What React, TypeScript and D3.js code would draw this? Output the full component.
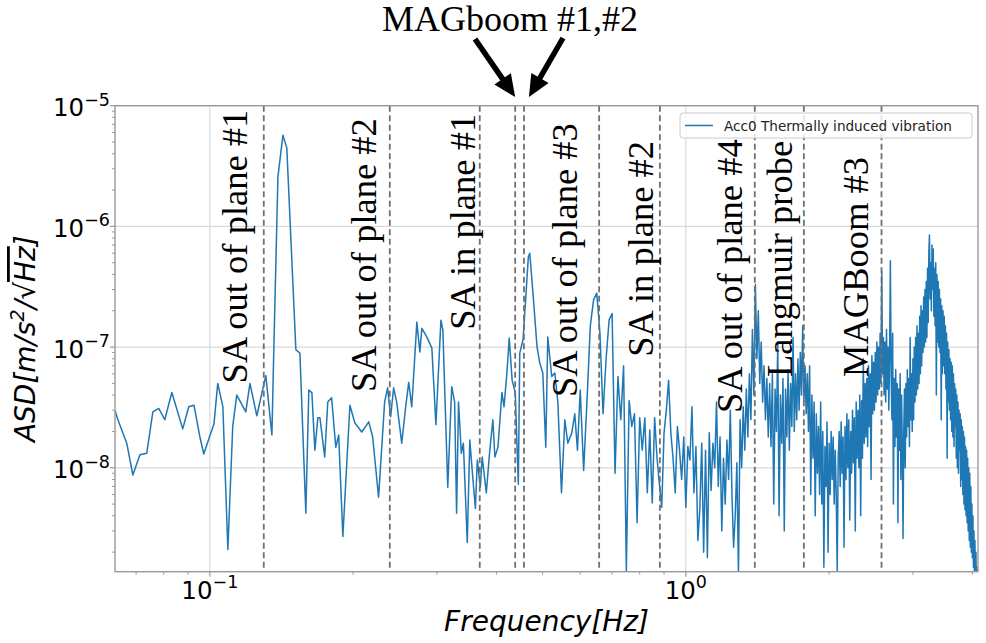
import React from "react";
import * as d3 from "d3";

// low frequency part
// frequency in Hz, ASD in 1e-9 m/s^2/sqrt(Hz)
const lowFreqHz = [
  0.0632, 0.0641, 0.0669, 0.0689, 0.0713, 0.0737, 0.0759, 0.0781, 0.0804, 0.0832,
  0.0877, 0.0903, 0.0926, 0.0953, 0.0971, 0.1005, 0.102, 0.1039, 0.1065, 0.1091,
  0.1117, 0.1139, 0.119, 0.1214, 0.1255, 0.1311, 0.135, 0.1363, 0.139, 0.1424,
  0.1451, 0.1516, 0.1546, 0.1591, 0.1614, 0.1638, 0.1662, 0.1686, 0.1703, 0.1743,
  0.1769, 0.1802, 0.1839, 0.1865, 0.1903, 0.1969, 0.2016, 0.2085, 0.2157, 0.2198,
  0.2262, 0.2329, 0.2363, 0.2398, 0.2433, 0.2469, 0.253, 0.2579, 0.2617, 0.2656,
  0.2722, 0.2762, 0.2789, 0.2857, 0.2927, 0.2985, 0.3058, 0.3087, 0.3161, 0.3222,
  0.3268, 0.3299, 0.333, 0.3376, 0.3409, 0.3474, 0.3517, 0.3562, 0.3613, 0.3647,
  0.37, 0.3734, 0.3809, 0.3874, 0.3932, 0.397, 0.403, 0.4108, 0.415, 0.4208,
  0.4256, 0.4316, 0.4381, 0.4447, 0.4478, 0.455, 0.4645, 0.4668, 0.47, 0.4768,
  0.4869, 0.4933, 0.5006, 0.5079, 0.5128, 0.5228, 0.5306, 0.5384, 0.548, 0.5569,
  0.565, 0.576, 0.5843, 0.592,
];
const lowAsdNano = [
  30, 25, 16, 8.7, 12.8, 13.2, 29, 31, 25, 42,
  21, 32, 33, 18, 13, 19.5, 23, 50, 32, 2.1,
  22, 40, 29, 50, 27, 58, 18.7, 100, 2570, 5700,
  4470, 95, 89, 4.2, 44, 42, 14, 26, 26, 12.3,
  35, 38, 14.8, 18.7, 2.7, 33, 23.6, 19.8, 24, 18,
  5.7, 35, 46, 26.5, 46, 35, 16, 32, 51, 32,
  161, 91, 143, 121, 98, 22.7, 167, 139, 6.9, 47,
  35, 4.2, 35, 13.2, 16, 2.4, 17, 9, 4.6, 11.6,
  6.9, 12.3, 6.2, 14, 25, 12.3, 14.8, 42, 32, 61,
  119, 53, 42, 7.3, 89, 115, 410, 557, 600, 297,
  100, 74, 61, 14.8, 121, 57, 61, 35, 6.2, 25,
  16, 19.5, 28, 14,
];

// dense part: one value per 0.01 Hz bin from 0.60 Hz on
const denseStartHz = 0.6;
const denseStepHz = 0.01;
const denseAsdNano = [
  44, 9.5, 36, 150, 246, 280, 130, 28, 80, 168,
  190, 9, 57, 25, 70, 1.4, 36, 22, 28, 3.5,
  26, 14, 26, 6.2, 20.6, 5.1, 26, 12, 7.3, 4.7,
  19.5, 30, 53, 19.5, 12, 6.2, 22, 14, 8, 18,
  4.7, 15, 11.6, 32, 6.2, 15, 2.5, 4.5, 16, 2,
  14, 1.8, 19.5, 6.5, 16, 10, 35, 7, 18, 3,
  12, 5, 17, 8, 30, 6, 2.2, 4, 11, 1.3,
  25, 10, 32, 14, 45, 18, 60, 25, 140, 40,
  330, 80, 200, 50, 110, 35, 70, 25, 55, 18,
  50, 15, 60, 5, 45, 20, 110, 4, 40, 16,
  55, 3, 45, 18, 65, 14, 50, 22, 120, 20,
  60, 25, 80, 30, 90, 40, 150, 35, 70, 28,
  60, 20, 70, 6, 40, 12, 35, 4, 28, 9,
  22, 6, 35, 5, 20, 1.5, 15, 7, 24, 2,
  16, 6, 20, 8, 18, 5, 14, 6, 1.4, 12,
  20, 7, 24, 9, 18, 2.2, 22, 8, 28, 10,
  25, 3.7, 20, 9, 30, 11, 26, 3, 35, 12,
  30, 10, 40, 4, 36, 12, 80, 16, 50, 18,
  55, 15, 70, 22, 60, 8, 85, 28, 75, 30,
  90, 35, 110, 40, 100, 45, 130, 50, 420, 60,
  120, 40, 110, 35, 140, 45, 100, 30, 90, 520,
  60, 25, 130, 5, 55, 15, 65, 18, 50, 3.5,
  45, 14, 60, 8, 40, 15, 2.6, 20, 45, 10,
  50, 18, 65, 22, 55, 15, 120, 25, 60, 20,
  80, 25, 100, 35, 120, 40, 150, 45, 130, 50,
  180, 60, 220, 70, 200, 90, 260, 100, 300, 110,
  350, 120, 450, 160, 600, 850, 250, 500, 200, 700,
  300, 650, 180, 450, 150, 500, 40, 400, 110, 350,
  100, 300, 90, 250, 25, 220, 60, 200, 70, 180,
  60, 150, 45, 130, 12, 110, 35, 95, 30, 80,
  25, 75, 20, 70, 18, 60, 15, 50, 22, 45,
  12, 40, 10, 35, 9, 30, 14, 28, 7, 25,
  8, 22, 6, 20, 5, 18, 4.5, 15, 4, 14,
  3.5, 12, 3, 10, 2.5, 9, 2.2, 7, 2, 5,
  1.8, 4, 1.5, 3, 1.2, 2.5, 1.0, 2, 0.8, 1.5, 0.6,
];

// dashed mode lines
const markerFreqHz = [0.1298, 0.2388, 0.369, 0.438, 0.457, 0.6575, 0.882, 1.396, 1.77, 2.577];
const magboomFreqHz = [0.438, 0.457];

// rotated labels: text, frequency of the baseline, ASD where the text starts
const labelTexts = [
  "SA out of plane #1", "SA out of plane #2", "SA in plane #1", "SA out of plane #3",
  "SA in plane #2", "SA out of plane #4", "Langmuir probe", "MAGBoom #3",
];
const labelFreqHz = [0.1196, 0.2233, 0.3604, 0.59, 0.852, 1.311, 1.67, 2.412];
const labelStartAsd = [5.0e-8, 4.25e-8, 1.39e-7, 3.86e-8, 8.3e-8, 2.84e-8, 5.65e-8, 5.65e-8];

const xLimits = [0.0632, 4.11];
const yLimits = [1.377e-9, 1e-5];
const xMajorTicks = [0.1, 1];
const yMajorTicks = [1e-8, 1e-7, 1e-6, 1e-5];

const legendLabel = "Acc0 Thermally induced vibration";
const topNote = "MAGboom #1,#2";

const BLUE = "#1f77b4";
const SPINE = "#9a9a9a";
const GRID = "#d9d9d9";

function minorTicks(lim: number[]) {
  const out: number[] = [];
  for (let e = -10; e <= 1; e++) {
    for (let k = 2; k <= 9; k++) {
      const v = k * Math.pow(10, e);
      if (v >= lim[0] && v <= lim[1]) out.push(v);
    }
  }
  return out;
}

function expOf(v: number) {
  return String(Math.round(Math.log10(v))).replace("-", "\u2212");
}

function Arrow({ x1, y1, x2, y2 }: { x1: number; y1: number; x2: number; y2: number }) {
  const dx = x2 - x1, dy = y2 - y1;
  const len = Math.sqrt(dx * dx + dy * dy);
  const ux = dx / len, uy = dy / len;
  const head = 22, half = 10;
  const bx = x2 - ux * head, by = y2 - uy * head;
  const pts = [
    [x2, y2],
    [bx - uy * half, by + ux * half],
    [bx + uy * half, by - ux * half],
  ];
  return (
    <g>
      <line x1={x1} y1={y1} x2={bx + ux * 2} y2={by + uy * 2} stroke="#000" strokeWidth={5.5} />
      <polygon points={pts.map((p) => p.join(",")).join(" ")} fill="#000" />
    </g>
  );
}

export default function App() {
  const W = 986, H = 643;
  const left = 115, right = 978, top = 105.7, bottom = 571.7;

  const x = d3.scaleLog().domain(xLimits).range([left, right]);
  const y = d3.scaleLog().domain(yLimits).range([bottom, top]);

  const points: [number, number][] = [
    ...lowFreqHz.map((f, i) => [f, lowAsdNano[i] * 1e-9] as [number, number]),
    ...denseAsdNano.map((v, i) => [denseStartHz + i * denseStepHz, v * 1e-9] as [number, number]),
  ];
  const path = d3
    .line<[number, number]>()
    .x((d) => x(d[0]))
    .y((d) => y(d[1]))(points) as string;

  const xMinor = minorTicks(xLimits);
  const yMinor = minorTicks(yLimits);
  const tickFont = "DejaVu Sans, sans-serif";
  const serif = "Liberation Serif, Times New Roman, serif";

  return (
    <div style={{ position: "absolute", left: 0, top: 0 }}>
      <svg width={W} height={H} viewBox={`0 0 ${W} ${H}`} style={{ display: "block", background: "#fff" }}>
        <defs>
          <clipPath id="plotArea">
            <rect x={left} y={top} width={right - left} height={bottom - top} />
          </clipPath>
        </defs>

        {/* grid */}
        {xMajorTicks.map((t) => (
          <line key={"gx" + t} x1={x(t)} x2={x(t)} y1={top} y2={bottom} stroke={GRID} strokeWidth={1.2} />
        ))}
        {yMajorTicks.map((t) => (
          <line key={"gy" + t} x1={left} x2={right} y1={y(t)} y2={y(t)} stroke={GRID} strokeWidth={1.2} />
        ))}

        {/* series */}
        <path d={path} fill="none" stroke={BLUE} strokeWidth={1.5} strokeLinejoin="round" clipPath="url(#plotArea)" />

        {/* mode lines */}
        {markerFreqHz.map((f) => (
          <line key={"m" + f} x1={x(f)} x2={x(f)} y1={top} y2={bottom} stroke="#707070" strokeWidth={1.8} strokeDasharray="6,3.5" />
        ))}

        {/* rotated labels */}
        {labelTexts.map((t, i) => (
          <text
            key={t}
            transform={`translate(${x(labelFreqHz[i])},${y(labelStartAsd[i])}) rotate(-90)`}
            fontFamily={serif}
            fontSize={36.5}
            fill="#000"
          >
            {t}
          </text>
        ))}

        {/* spines */}
        <rect x={left} y={top} width={right - left} height={bottom - top} fill="none" stroke={SPINE} strokeWidth={1.4} />

        {/* x ticks */}
        {xMajorTicks.map((t) => (
          <g key={"xt" + t}>
            <line x1={x(t)} x2={x(t)} y1={bottom} y2={bottom + 5} stroke={SPINE} strokeWidth={1.2} />
            <text x={x(t)} y={599} textAnchor="middle" fontFamily={tickFont} fontSize={24.5} fill="#000">
              10<tspan dy={-11} fontSize={17.5}>{expOf(t)}</tspan>
            </text>
          </g>
        ))}
        {xMinor.map((t) => (
          <line key={"xm" + t} x1={x(t)} x2={x(t)} y1={bottom} y2={bottom + 3} stroke={SPINE} strokeWidth={1} />
        ))}

        {/* y ticks */}
        {yMajorTicks.map((t) => (
          <g key={"yt" + t}>
            <line x1={left - 5} x2={left} y1={y(t)} y2={y(t)} stroke={SPINE} strokeWidth={1.2} />
            <text x={110} y={y(t) + 10.5} textAnchor="end" fontFamily={tickFont} fontSize={24.5} fill="#000">
              10<tspan dy={-10.5} fontSize={17.5}>{expOf(t)}</tspan>
            </text>
          </g>
        ))}
        {yMinor.map((t) => (
          <line key={"ym" + t} x1={left - 3} x2={left} y1={y(t)} y2={y(t)} stroke={SPINE} strokeWidth={1} />
        ))}

        {/* axis titles */}
        <text x={(left + right) / 2} y={631} textAnchor="middle" fontFamily={tickFont} fontStyle="italic" fontSize={28} fill="#000">
          Frequency[Hz]
        </text>
        <text
          transform={`translate(35,${(top + bottom) / 2}) rotate(-90)`}
          textAnchor="middle"
          fontFamily={tickFont}
          fontStyle="italic"
          fontSize={28}
          fill="#000"
        >
          ASD[m/s<tspan dy={-11} fontSize={19}>2</tspan>
          <tspan dy={11}>/</tspan>
          <tspan fontStyle="normal">{"\u221A"}</tspan>
          <tspan textDecoration="overline">Hz</tspan>]
        </text>

        {/* legend */}
        <rect x={680} y={113} width={292} height={25} rx={3} fill="#fff" fillOpacity={0.8} stroke="#cccccc" strokeWidth={1} />
        <line x1={685} x2={713} y1={125.5} y2={125.5} stroke={BLUE} strokeWidth={1.5} />
        <text x={724} y={130.5} fontFamily={tickFont} fontSize={13.6} fill="#222">
          {legendLabel}
        </text>

        {/* MAGboom annotation */}
        <text x={382} y={31} fontFamily={serif} fontSize={36} fill="#000">
          {topNote}
        </text>
        <Arrow x1={475} y1={39} x2={x(magboomFreqHz[0])} y2={97} />
        <Arrow x1={563} y1={38} x2={x(magboomFreqHz[1]) + 5} y2={97} />
      </svg>
    </div>
  );
}
